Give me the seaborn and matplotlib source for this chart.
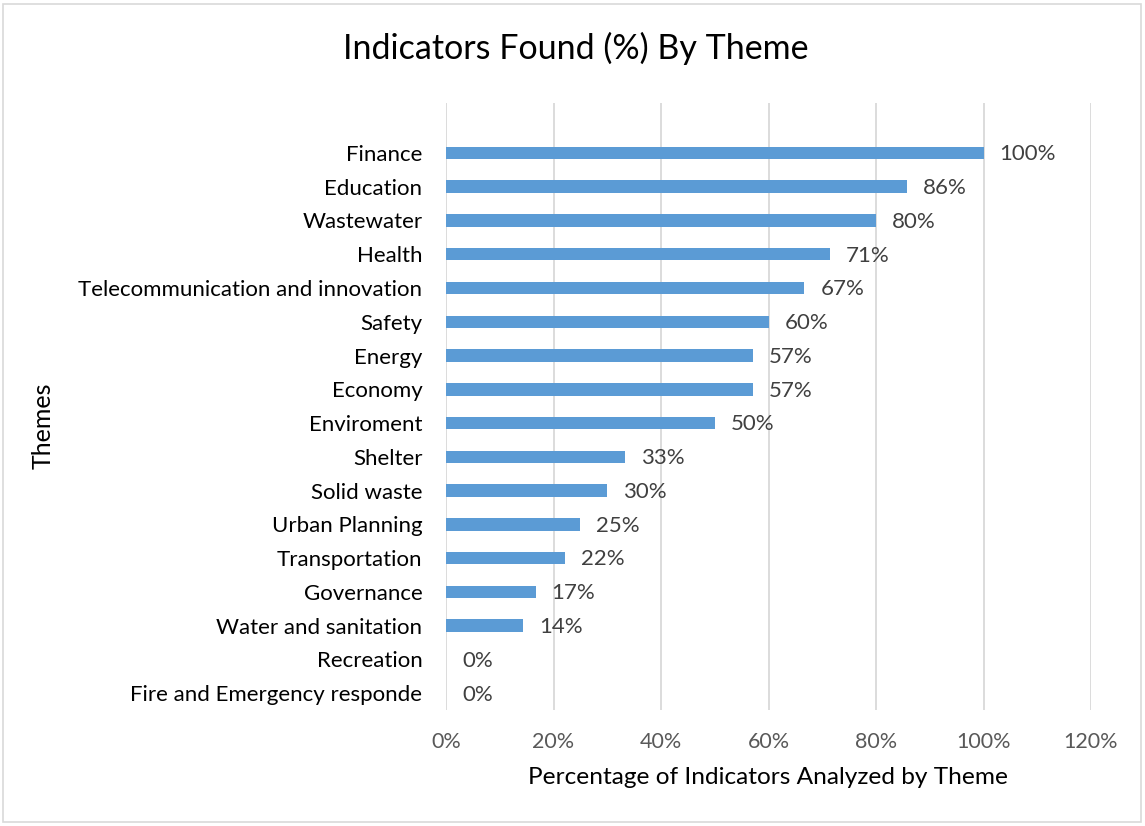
import matplotlib
matplotlib.use("Agg")
import matplotlib.pyplot as plt
import matplotlib.patches as mpatches
from matplotlib.ticker import FuncFormatter
import seaborn as sns
import pandas as pd

# Themes, ordered top to bottom
themes = [
    "Finance", "Education", "Wastewater", "Health",
    "Telecommunication and innovation", "Safety", "Energy", "Economy",
    "Enviroment", "Shelter", "Solid waste", "Urban Planning",
    "Transportation", "Governance", "Water and sanitation", "Recreation",
    "Fire and Emergency responde",
]
# Share of indicators found per theme (%)
found_pct = [
    100.0, 85.714, 80.0, 71.429,
    66.667, 60.0, 57.143, 57.143,
    50.0, 33.333, 30.0, 25.0,
    22.222, 16.667, 14.286, 0.0,
    0.0,
]
x_ticks = [0, 20, 40, 60, 80, 100, 120]

df = pd.DataFrame({"theme": themes, "pct": found_pct})

sns.set_theme(style="white")
plt.rcParams["font.family"] = ["Lato", "DejaVu Sans"]

W, H = 1145, 826
fig = plt.figure(figsize=(W / 100, H / 100), dpi=100)
ax = fig.add_axes([446 / W, 1 - 710 / H, (1091 - 446) / W, (710 - 103) / H])

bar_color = "#5B9BD5"
sns.barplot(data=df, x="pct", y="theme", orient="h", color=bar_color,
            width=0.37, saturation=1, linewidth=0, ax=ax, zorder=3)

ax.set_xlim(0, 120)
ax.set_ylim(16.5, -1.48)
ax.set_xticks(x_ticks)
ax.xaxis.set_major_formatter(FuncFormatter(lambda v, _: f"{v:.0f}%"))
ax.grid(axis="x", color="#D9D9D9", linewidth=1.3, zorder=0)
ax.grid(axis="y", visible=False)
for s in ax.spines.values():
    s.set_visible(False)

ax.tick_params(axis="x", length=0, pad=16, labelsize=15.5, labelcolor="#595959")
ax.tick_params(axis="y", length=0, pad=17, labelsize=16, labelcolor="#000000")

# value labels at the end of each bar
for i, v in enumerate(found_pct):
    ax.annotate(f"{v:.0f}%", xy=(v, i), xytext=(11.5, -1),
                textcoords="offset points", ha="left", va="center",
                fontsize=16, color="#404040")

ax.set_xlabel("")
ax.set_ylabel("")
fig.text(768 / W, 1 - 778 / H, "Percentage of Indicators Analyzed by Theme",
         ha="center", va="center", fontsize=17.6, color="#000000")
fig.text(43 / W, 1 - 426 / H, "Themes", rotation=90, ha="center",
         va="center", fontsize=18, color="#000000")

fig.text(576 / W, 1 - 48 / H, "Indicators Found (%) By Theme",
         ha="center", va="center", fontsize=24.5, color="#000000")

# chart frame
fig.add_artist(mpatches.Rectangle((3 / W, 4 / H), 1138 / W, 818 / H,
                                  transform=fig.transFigure, fill=False,
                                  edgecolor="#D9D9D9", linewidth=1.2))

fig.savefig("out.png", dpi=100)
